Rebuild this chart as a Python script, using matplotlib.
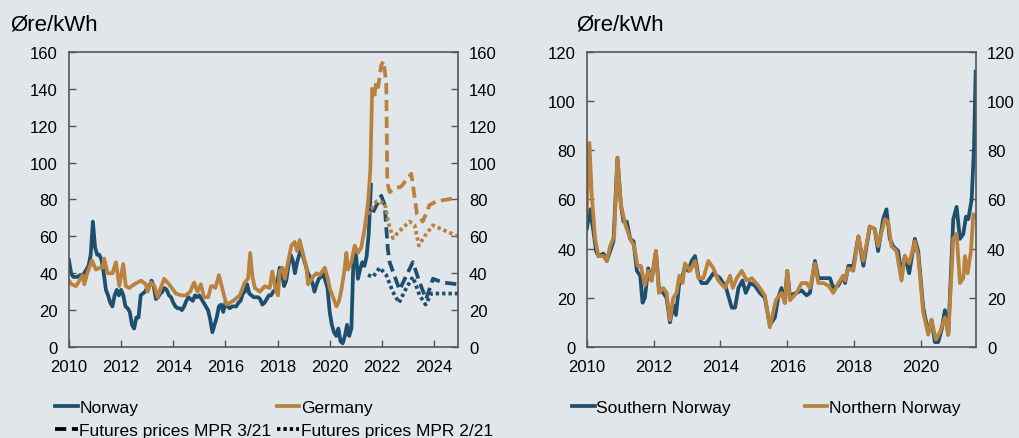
import numpy as np
import matplotlib
matplotlib.use("Agg")
import matplotlib.pyplot as plt
from matplotlib.lines import Line2D

plt.rcParams['font.family'] = ['Liberation Sans', 'DejaVu Sans']

BG = '#e1e6ea'
BLUE = '#1d4f6e'
ORANGE = '#b9823f'
SPINE = '#555555'

# --- Left panel: monthly spot price Norway, Jan 2010 - Aug 2021 ---
norway_monthly = [
    47, 40, 38, 38, 38, 39, 39, 40, 42, 44, 50, 68,   # 2010
    54, 50, 50, 47, 40, 31, 28, 24, 22, 28, 31, 28,   # 2011
    31, 28, 22, 21, 19, 12, 10, 16, 16, 28, 29, 30,   # 2012
    32, 33, 36, 33, 26, 27, 29, 30, 32, 31, 28, 27,   # 2013
    24, 22, 21, 21, 20, 22, 25, 27, 26, 25, 28, 27,   # 2014
    28, 26, 24, 22, 20, 15, 8, 12, 16, 22, 23, 19,    # 2015
    24, 22, 21, 22, 22, 22, 24, 25, 29, 30, 34, 29,   # 2016
    28, 27, 27, 27, 26, 23, 24, 26, 28, 28, 30, 31,   # 2017
    36, 43, 40, 33, 36, 44, 50, 47, 40, 46, 50, 53,   # 2018
    48, 44, 40, 38, 35, 30, 34, 37, 38, 40, 36, 32,   # 2019
    19, 12, 8, 6, 10, 3, 2, 6, 12, 6, 10, 50,         # 2020
    52, 37, 42, 46, 44, 49, 62, 88,                   # 2021
]
norway_dates = 2010 + np.arange(len(norway_monthly)) / 12

germany_dates = [
    2010.00, 2010.10, 2010.27, 2010.40, 2010.52, 2010.59, 2010.70, 2010.78, 2010.88,
    2011.03, 2011.19, 2011.29, 2011.35, 2011.48, 2011.67, 2011.80, 2011.93,
    2012.08, 2012.18, 2012.31, 2012.50, 2012.76, 2012.95,
    2013.02, 2013.14, 2013.28, 2013.40, 2013.52, 2013.65, 2013.84,
    2014.10, 2014.30, 2014.48, 2014.65, 2014.80, 2014.93,
    2015.06, 2015.18, 2015.34, 2015.45, 2015.53, 2015.62, 2015.75, 2015.91,
    2016.04, 2016.30, 2016.55, 2016.74, 2016.87, 2016.95,
    2017.04, 2017.13, 2017.32, 2017.51, 2017.70, 2017.80, 2017.93,
    2018.02, 2018.08, 2018.19, 2018.28, 2018.40, 2018.53, 2018.66, 2018.75, 2018.85, 2018.98,
    2019.10, 2019.17, 2019.36, 2019.50, 2019.62, 2019.81, 2019.93,
    2020.00, 2020.13, 2020.26, 2020.36, 2020.45, 2020.57, 2020.64, 2020.70, 2020.83, 2020.96,
    2021.08, 2021.21, 2021.34, 2021.47, 2021.56, 2021.63, 2021.72,
]
germany_price = [
    36, 34, 33, 36, 39, 34, 40, 43, 47,
    42, 43, 43, 48, 40, 40, 46, 33,
    45, 33, 32, 34, 36, 34,
    30, 35, 33, 27, 32, 37, 34,
    29, 28, 28, 30, 35, 30,
    34, 27, 27, 33, 33, 32, 39, 30,
    23, 25, 28, 35, 37, 51,
    38, 32, 30, 33, 32, 41, 31,
    28, 41, 43, 37, 46, 55, 57, 52, 58, 50,
    44, 34, 38, 40, 39, 43, 37,
    32, 27, 22, 25, 31, 42, 51, 42, 46, 55,
    51, 54, 64, 78, 96, 140, 137,
]

# Futures prices, MPR 3/21
fut3_no_dates = [2021.66, 2021.98, 2022.11, 2022.23, 2022.30, 2022.68, 2023.19,
                 2023.45, 2023.70, 2023.96, 2024.34, 2024.92]
fut3_no_price = [73, 82, 77, 53, 46, 31, 46, 35, 26, 37, 35, 34]
fut3_de_dates = [2021.72, 2021.79, 2021.86, 2021.98, 2022.07, 2022.17, 2022.21,
                 2022.30, 2022.50, 2022.74, 2023.13, 2023.35, 2023.57, 2023.83,
                 2024.09, 2024.92]
fut3_de_price = [137, 144, 141, 153, 155, 143, 89, 84, 86, 87, 94, 72, 68, 77, 79, 81]

# Futures prices, MPR 2/21
fut2_no_dates = [2021.47, 2021.66, 2021.92, 2022.17, 2022.42, 2022.66, 2022.94,
                 2023.19, 2023.45, 2023.68, 2023.90, 2024.92]
fut2_no_price = [39, 38, 43, 39, 30, 24, 32, 38, 28, 23, 29, 29]
fut2_de_dates = [2021.47, 2021.79, 2022.11, 2022.24, 2022.43, 2022.68, 2023.07,
                 2023.26, 2023.42, 2023.64, 2023.96, 2024.92]
fut2_de_price = [72, 79, 78, 68, 59, 63, 68, 66, 55, 60, 66, 60]

# --- Right panel: Southern and Northern Norway ---
south_dates = [
    2010.00, 2010.10, 2010.20, 2010.28, 2010.35, 2010.50, 2010.60, 2010.70, 2010.80, 2010.92,
    2011.02, 2011.10, 2011.20, 2011.30, 2011.40, 2011.50, 2011.60, 2011.67, 2011.74, 2011.84, 2011.94,
    2012.07, 2012.16, 2012.29, 2012.39, 2012.49, 2012.59, 2012.67, 2012.77, 2012.87, 2012.94,
    2013.04, 2013.14, 2013.24, 2013.34, 2013.44, 2013.59, 2013.79, 2013.99,
    2014.17, 2014.34, 2014.44, 2014.54, 2014.66, 2014.76, 2014.89,
    2015.03, 2015.18, 2015.33, 2015.48, 2015.63, 2015.73, 2015.83, 2015.93,
    2016.00, 2016.08, 2016.28, 2016.43, 2016.58, 2016.68, 2016.83, 2016.93,
    2017.13, 2017.28, 2017.38, 2017.53, 2017.68, 2017.73, 2017.83, 2017.98,
    2018.13, 2018.28, 2018.47, 2018.62, 2018.72, 2018.87, 2018.97,
    2019.07, 2019.17, 2019.32, 2019.42, 2019.52, 2019.65, 2019.82, 2019.92,
    2020.07, 2020.22, 2020.32, 2020.42, 2020.52, 2020.62, 2020.72, 2020.82, 2020.97,
    2021.07, 2021.17, 2021.27, 2021.35, 2021.42, 2021.52, 2021.59, 2021.64,
]
south_price = [
    48, 56, 47, 39, 37, 38, 35, 39, 43, 77,
    58, 51, 51, 44, 43, 31, 29, 18, 20, 32, 27,
    39, 24, 22, 20, 10, 17, 13, 26, 29, 33,
    31, 35, 37, 29, 26, 26, 30, 28,
    24, 16, 16, 24, 27, 22, 26,
    25, 22, 20, 9, 12, 20, 24, 18,
    31, 21, 22, 23, 21, 22, 35, 28,
    28, 28, 24, 25, 29, 26, 33, 33,
    45, 33, 49, 48, 39, 52, 56,
    44, 41, 39, 29, 37, 30, 44, 39,
    16, 6, 11, 2, 2, 7, 15, 5, 52,
    57, 44, 46, 53, 52, 60, 81, 112,
]
north_dates = [
    2010.00, 2010.08, 2010.15, 2010.25, 2010.35, 2010.50, 2010.60, 2010.70, 2010.82, 2010.92,
    2011.02, 2011.15, 2011.30, 2011.42, 2011.52, 2011.62, 2011.74, 2011.84, 2011.94,
    2012.07, 2012.16, 2012.29, 2012.39, 2012.49, 2012.59, 2012.69, 2012.77, 2012.87, 2012.94,
    2013.09, 2013.24, 2013.34, 2013.49, 2013.64, 2013.79, 2013.94,
    2014.14, 2014.29, 2014.37, 2014.49, 2014.64, 2014.79, 2014.94,
    2015.13, 2015.33, 2015.48, 2015.66, 2015.83, 2015.93,
    2016.00, 2016.08, 2016.28, 2016.43, 2016.58, 2016.68, 2016.83, 2016.93,
    2017.08, 2017.23, 2017.38, 2017.53, 2017.68, 2017.73, 2017.83, 2017.98,
    2018.13, 2018.28, 2018.47, 2018.62, 2018.72, 2018.92,
    2019.02, 2019.12, 2019.27, 2019.42, 2019.52, 2019.65, 2019.82, 2019.92,
    2020.07, 2020.22, 2020.32, 2020.45, 2020.57, 2020.72, 2020.82, 2020.97,
    2021.07, 2021.17, 2021.27, 2021.32, 2021.40, 2021.50, 2021.57, 2021.64,
]
north_price = [
    55, 83, 62, 44, 37, 37, 35, 41, 45, 77,
    58, 50, 44, 41, 33, 33, 25, 31, 27,
    39, 22, 24, 22, 11, 20, 22, 29, 26, 34,
    31, 35, 28, 28, 35, 32, 27,
    24, 29, 24, 28, 31, 27, 28,
    25, 21, 8, 19, 22, 18,
    31, 19, 22, 26, 26, 24, 34, 26,
    26, 25, 22, 26, 29, 27, 32, 31,
    45, 35, 49, 48, 41, 52,
    51, 41, 39, 27, 37, 34, 43, 37,
    14, 5, 11, 3, 6, 12, 5, 44,
    46, 26, 28, 37, 30, 39, 54, 53,
]

LW = 2.7
DASH = (0, (3.0, 1.5))
DOT = (0, (0.9, 0.8))

fig = plt.figure(figsize=(10.19, 4.39), dpi=100, facecolor=BG)


def style_axes(ax, ymax, xmax, xticks):
    ax.set_facecolor(BG)
    ax.set_xlim(2010, xmax)
    ax.set_ylim(0, ymax)
    ax.set_yticks(np.arange(0, ymax + 1, 20))
    ax.set_xticks(xticks)
    ax.set_xticklabels([str(t) for t in xticks])
    for side in ['left', 'right', 'bottom', 'top']:
        ax.spines[side].set_color(SPINE)
        ax.spines[side].set_linewidth(1.2)
    ax.tick_params(axis='y', direction='in', length=5, width=1, color=SPINE,
                   left=True, right=True, labelleft=True, labelright=True,
                   labelsize=12, pad=8)
    ax.tick_params(axis='x', direction='in', length=5, width=1, color=SPINE,
                   labelsize=12, pad=9)


# Left panel
ax1 = fig.add_axes([0.0677, 0.2073, 0.3817, 0.672])
ax1.plot(norway_dates, norway_monthly, color=BLUE, lw=LW)
ax1.plot(germany_dates, germany_price, color=ORANGE, lw=LW)
ax1.plot(fut3_no_dates, fut3_no_price, color=BLUE, lw=LW, linestyle=DASH, dash_capstyle='butt')
ax1.plot(fut2_no_dates, fut2_no_price, color=BLUE, lw=LW, linestyle=DOT, dash_capstyle='butt')
ax1.plot(fut3_de_dates, fut3_de_price, color=ORANGE, lw=LW, linestyle=DASH, dash_capstyle='butt')
ax1.plot(fut2_de_dates, fut2_de_price, color=ORANGE, lw=LW, linestyle=DOT, dash_capstyle='butt')
style_axes(ax1, 160, 2024.92, list(range(2010, 2025, 2)))

# Right panel
ax2 = fig.add_axes([0.5758, 0.2073, 0.382, 0.672])
ax2.plot(south_dates, south_price, color=BLUE, lw=LW)
ax2.plot(north_dates, north_price, color=ORANGE, lw=LW)
style_axes(ax2, 120, 2021.65, list(range(2010, 2021, 2)))

fig.text(10 / 1019, 1 - 25 / 439, 'Øre/kWh', fontsize=16, va='center', ha='left')
fig.text(576 / 1019, 1 - 25 / 439, 'Øre/kWh', fontsize=16, va='center', ha='left')

# Legends
leg_kw = dict(frameon=False, fontsize=12.5, handlelength=1.3, handletextpad=0.1,
              borderpad=0, borderaxespad=0, labelspacing=0.42, loc='upper left',
              bbox_transform=fig.transFigure)
h_left = [
    Line2D([], [], color=BLUE, lw=LW),
    Line2D([], [], color='black', lw=LW, linestyle=DASH, dash_capstyle='butt'),
    Line2D([], [], color=ORANGE, lw=LW),
    Line2D([], [], color='black', lw=LW, linestyle=DOT, dash_capstyle='butt'),
]
l_left = ['Norway', 'Futures prices MPR 3/21', 'Germany', 'Futures prices MPR 2/21']
fig.legend(h_left, l_left, ncol=2, columnspacing=0.3,
           bbox_to_anchor=(55 / 1019, 1 - 401 / 439), **leg_kw)

h_right = [Line2D([], [], color=BLUE, lw=LW), Line2D([], [], color=ORANGE, lw=LW)]
fig.legend(h_right, ['Southern Norway', 'Northern Norway'], ncol=2, columnspacing=4.25,
           bbox_to_anchor=(572 / 1019, 1 - 401 / 439), **leg_kw)

fig.savefig('out.png', dpi=100, facecolor=BG)
